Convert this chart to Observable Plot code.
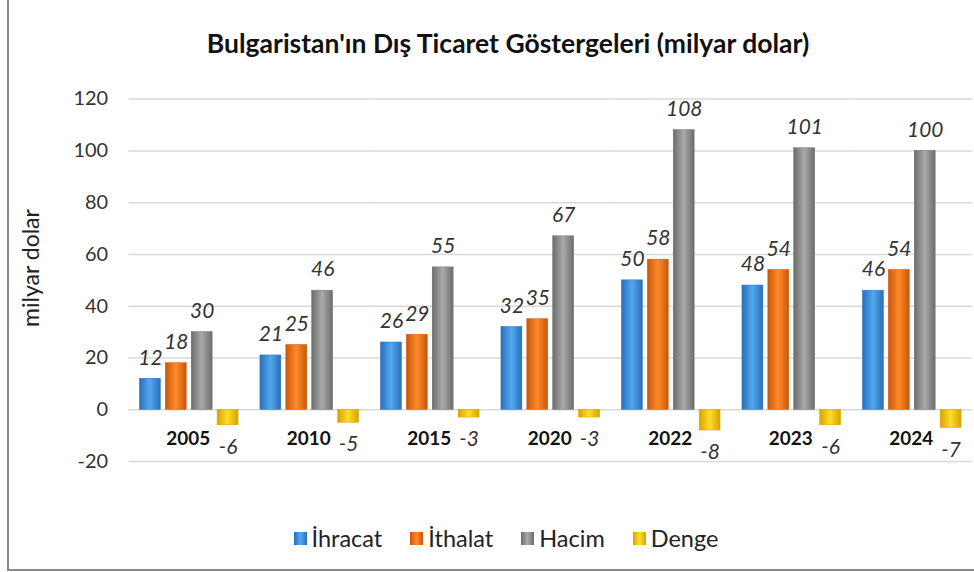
<!DOCTYPE html>
<html><head><meta charset="utf-8">
<script src="https://cdn.jsdelivr.net/npm/d3@7"></script>
<script src="https://cdn.jsdelivr.net/npm/@observablehq/plot@0.6"></script>
<style>
body{margin:0;background:#fff;overflow:hidden;}
#frame{position:relative;width:974px;height:572px;overflow:hidden;font-family:Lato,"Open Sans",sans-serif;background:#fff;}
#border{position:absolute;left:7px;top:-2px;width:990px;height:573px;border-left:2px solid #8a8a8a;border-bottom:2px solid #8a8a8a;box-sizing:border-box;}
#title{position:absolute;top:28px;left:8px;width:1000px;text-align:center;font-weight:bold;font-size:26.5px;line-height:30px;color:#111;}
#ylabel{position:absolute;left:30px;top:268px;transform:translate(-50%,-50%) rotate(-90deg);font-size:23px;color:#222;white-space:nowrap;}
#chart{position:absolute;left:0;top:0;}
#legend{position:absolute;top:524px;left:8px;width:996px;display:flex;justify-content:center;align-items:center;font-size:23.5px;color:#222;}
#legend .item{display:flex;align-items:center;margin:0 14px;}
#legend .sw{width:13px;height:13px;margin-right:5px;}
</style></head>
<body>
<div id="frame">
  <div id="border"></div>
  <div id="chart"></div>
  <div id="title">Bulgaristan'ın Dış Ticaret Göstergeleri (milyar dolar)</div>
  <div id="ylabel">milyar dolar</div>
  <div id="legend"></div>
</div>
<script>
const years = ["2005","2010","2015","2020","2022","2023","2024"];
const series = ["İhracat","İthalat","Hacim","Denge"];
const ihracat = [12,21,26,32,50,48,46];
const ithalat = [18,25,29,35,58,54,54];
const hacim = [30,46,55,67,108,101,100];
const denge = [-6,-5,-3,-3,-8,-6,-7];
const yTicks = [-20,0,20,40,60,80,100,120];
const colors = [
  ["#2a6fb6","#52a8f0","#2a6fb6"],
  ["#c9570a","#ff8a2a","#c9570a"],
  ["#6c6c6c","#aaaaaa","#6c6c6c"],
  ["#d8a200","#ffdc2c","#d8a200"]
];

const seriesValues = [ihracat, ithalat, hacim, denge];
const data = years.flatMap((y, i) => seriesValues.map((arr, j) => ({year: y, series: series[j], value: arr[i]})));

const barMarks = series.map((s, j) => Plot.barY(data.filter(d => d.series === s), {
  fx: "year", x: "series", y: "value", fill: `url(#g${j})`, stroke: colors[j][0], strokeWidth: 0.5
}));

const plot = Plot.plot({
  width: 978, height: 500,
  marginLeft: 127, marginRight: 0, marginTop: 99, marginBottom: 37,
  style: {fontFamily: "Lato, 'Open Sans', sans-serif", fontSize: "20px", color: "#333", background: "transparent"},
  fx: {domain: years, paddingInner: 0, paddingOuter: 0, axis: null},
  x: {domain: series, paddingInner: 0.2, paddingOuter: 0.41, axis: null},
  y: {domain: [-20, 120], ticks: yTicks, tickSize: 0, tickPadding: 21, label: null, tickFormat: d => String(d)},
  marks: [
    Plot.ruleY(yTicks, {stroke: "#d9d9d9", strokeWidth: 1.5}),
    ...barMarks,
    Plot.text(data.filter(d => d.value >= 0), {fx: "year", x: "series", y: "value", text: d => String(d.value), dy: -21, fontStyle: "italic", fontSize: 21, fill: "#333"}),
    Plot.text(data.filter(d => d.value < 0), {fx: "year", x: "series", y: "value", text: d => String(d.value), dy: 22, fontStyle: "italic", fontSize: 21, fill: "#333"}),
    Plot.text(years, {fx: d => d, y: 0, text: d => d, dy: 29, dx: -1, fontWeight: "bold", fontSize: 19, fill: "#111"})
  ]
});

const svg = d3.select(plot);
const defs = svg.insert("defs", ":first-child");
colors.forEach((c, j) => {
  const g = defs.append("linearGradient").attr("id", `g${j}`).attr("x1", "0").attr("x2", "1").attr("y1", "0").attr("y2", "0");
  g.append("stop").attr("offset", "0%").attr("stop-color", c[0]);
  g.append("stop").attr("offset", "50%").attr("stop-color", c[1]);
  g.append("stop").attr("offset", "100%").attr("stop-color", c[2]);
});
document.getElementById("chart").appendChild(plot);

const legend = d3.select("#legend");
series.forEach((s, j) => {
  const it = legend.append("div").attr("class", "item");
  it.append("div").attr("class", "sw").style("background", `linear-gradient(to right, ${colors[j][0]}, ${colors[j][1]}, ${colors[j][0]})`);
  it.append("span").text(s);
});
</script>
</body></html>
